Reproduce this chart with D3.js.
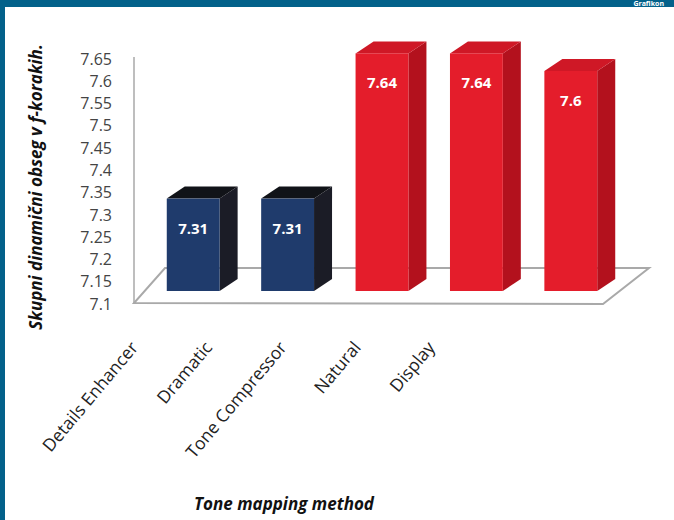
<!DOCTYPE html>
<html>
<head>
<meta charset="utf-8">
<script src="https://cdn.jsdelivr.net/npm/d3@7"></script>
<style>
    body { margin: 0; background: #fff; }
    svg { display: block; }
    text { font-family: "Open Sans", sans-serif; }
</style>
</head>
<body>
<div id="chart"></div>
<script>
// chart values
const categories = ["Details Enhancer", "Dramatic", "Tone Compressor", "Natural", "Display"];
const values = [7.31, 7.31, 7.64, 7.64, 7.6];
const groups = ["blue", "blue", "red", "red", "red"];
const yTicks = [7.1, 7.15, 7.2, 7.25, 7.3, 7.35, 7.4, 7.45, 7.5, 7.55, 7.6, 7.65];
const yTitle = "Skupni dinamični obseg v f-korakih.";
const xTitle = "Tone mapping method";

const width = 674, height = 520;
const depth = { x: 18, y: -12 };

const colors = {
    blue: { front: "#1f3b6c", side: "#1b1c26", top: "#111318" },
    red: { front: "#e41d2b", side: "#b3111d", top: "#cf1826" }
};

const svg = d3.select("#chart")
    .append("svg")
    .attr("width", width)
    .attr("height", height);

// frame of the page
svg.append("rect").attr("x", 0).attr("y", 0).attr("width", width).attr("height", 7).attr("fill", "#03618a");
svg.append("rect").attr("x", 0).attr("y", 0).attr("width", 5).attr("height", height).attr("fill", "#03618a");
svg.append("text")
    .attr("x", 664).attr("y", 6)
    .attr("text-anchor", "end")
    .attr("fill", "#fff")
    .attr("font-size", 7)
    .attr("font-weight", "bold")
    .text("Grafikon");

// scales
const x = d3.scaleBand()
    .domain(categories)
    .range([146, 618])
    .paddingInner(0.44)
    .paddingOuter(0.22);

const y = d3.scaleLinear()
    .domain([7.1, 7.65])
    .range([291, 49]);

// tick labels sit on the front plane, a little lower than the bars
const yFront = d3.scaleLinear()
    .domain([7.1, 7.65])
    .range([304, 59]);

const xLabel = d3.scalePoint()
    .domain(categories)
    .range([139, 436]);

// floor
const floorFront = yFront(7.1) - 1, floorBack = 268;
svg.append("polygon")
    .attr("points", [
        [134, floorFront], [603, floorFront + 1], [649, floorBack], [165, floorBack]
    ].map(p => p.join(",")).join(" "))
    .attr("fill", "#fff")
    .attr("stroke", "#a9a9a9")
    .attr("stroke-width", 2);

// vertical axis line
svg.append("line")
    .attr("x1", 134).attr("x2", 134)
    .attr("y1", yFront(7.65) - 2).attr("y2", floorFront)
    .attr("stroke", "#a9a9a9")
    .attr("stroke-width", 1.5);

// y axis
svg.append("g")
    .attr("transform", "translate(116,0)")
    .call(d3.axisLeft(yFront).tickValues(yTicks).tickSize(0).tickPadding(4).tickFormat(d => String(+d.toFixed(2))))
    .call(g => g.select(".domain").remove())
    .selectAll("text")
    .attr("font-size", 16)
    .attr("fill", "#444")
    .attr("font-family", "'Open Sans', sans-serif");

// 3D bars
const bars = svg.append("g")
    .selectAll("g")
    .data(categories)
    .join("g");

bars.each(function (c, i) {
    const g = d3.select(this);
    const x0 = x(c), x1 = x(c) + x.bandwidth();
    const yt = y(values[i]), yb = y(7.1);
    const col = colors[groups[i]];

    g.append("polygon")
        .attr("points", [[x1, yt], [x1 + depth.x, yt + depth.y], [x1 + depth.x, yb + depth.y], [x1, yb]].join(" "))
        .attr("fill", col.side);
    g.append("polygon")
        .attr("points", [[x0, yt], [x0 + depth.x, yt + depth.y], [x1 + depth.x, yt + depth.y], [x1, yt]].join(" "))
        .attr("fill", col.top);
    g.append("rect")
        .attr("x", x0).attr("y", yt)
        .attr("width", x.bandwidth())
        .attr("height", yb - yt)
        .attr("fill", col.front);
    g.append("text")
        .attr("x", (x0 + x1) / 2)
        .attr("y", yt + 35)
        .attr("text-anchor", "middle")
        .attr("fill", "#fff")
        .attr("font-size", 15)
        .attr("font-weight", "bold")
        .text(values[i]);
});

// category labels
svg.append("g")
    .selectAll("text")
    .data(categories)
    .join("text")
    .attr("transform", d => `translate(${xLabel(d)},348) rotate(-50)`)
    .attr("text-anchor", "end")
    .attr("font-size", 17.5)
    .attr("fill", "#222")
    .text(d => d);

// axis titles
svg.append("text")
    .attr("transform", "translate(42,187) rotate(-90)")
    .attr("text-anchor", "middle")
    .attr("font-size", 17)
    .attr("font-weight", "bold")
    .attr("font-style", "italic")
    .attr("fill", "#111")
    .text(yTitle);

svg.append("text")
    .attr("x", 284).attr("y", 510)
    .attr("text-anchor", "middle")
    .attr("font-size", 17)
    .attr("font-weight", "bold")
    .attr("font-style", "italic")
    .attr("fill", "#111")
    .text(xTitle);
</script>
</body>
</html>
